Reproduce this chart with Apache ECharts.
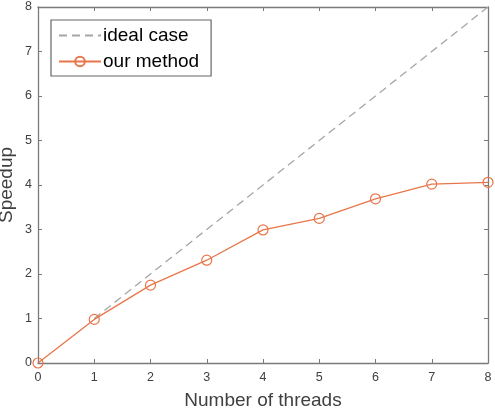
<!DOCTYPE html>
<html>
<head>
<meta charset="utf-8">
<script src="https://cdn.jsdelivr.net/npm/echarts@6/dist/echarts.min.js"></script>
<style>
  html, body { margin: 0; padding: 0; background: #fff; }
  #main { width: 495px; height: 411px; }
</style>
</head>
<body>
<div id="main"></div>
<script>
var threads = [0, 1, 2, 3, 4, 5, 6, 7, 8];
var ourMethod = [0, 0.98, 1.75, 2.31, 2.99, 3.25, 3.69, 4.02, 4.06];
var idealThreads = [1, 2, 3, 4, 5, 6, 7, 8];
var idealCase = [1, 2, 3, 4, 5, 6, 7, 8];

var pairs = function (xs, ys) {
    var out = [];
    for (var i = 0; i < xs.length; i++) out.push([xs[i], ys[i]]);
    return out;
};

var axisColor = '#7a7a7a';
var textColor = '#404040';
var font = 'Liberation Sans';

var chart = echarts.init(document.getElementById('main'));

var baseAxis = function (extra) {
    var a = {
        type: 'value',
        min: 0,
        max: 8,
        interval: 1,
        axisLine: { show: true, onZero: false, lineStyle: { color: axisColor, width: 1.3 } },
        axisTick: { show: true, inside: true, length: 4, lineStyle: { color: axisColor } },
        axisLabel: { show: true, color: textColor, fontSize: 12.5, fontFamily: font },
        splitLine: { show: false }
    };
    for (var k in extra) a[k] = extra[k];
    return a;
};

var option = {
    animation: false,
    grid: { left: 38, right: 7, top: 7, bottom: 48, show: false, containLabel: false, outerBoundsMode: 'none' },
    legend: {
        left: 51,
        top: 20,
        orient: 'vertical',
        backgroundColor: '#fff',
        borderColor: '#666',
        borderWidth: 1.2,
        borderRadius: 0,
        padding: [6, 12, 5, 7],
        itemGap: 7,
        itemWidth: 42,
        itemHeight: 12,
        textStyle: { fontSize: 19, fontFamily: font, color: '#000', padding: [0, 0, 0, -3] },
        data: [
            { name: 'ideal case', itemStyle: { opacity: 0 } },
            { name: 'our method' }
        ]
    },
    xAxis: [
        baseAxis({
            position: 'bottom',
            name: 'Number of threads',
            nameLocation: 'middle',
            nameGap: 28,
            nameMoveOverlap: false,
            nameTextStyle: { fontSize: 19, fontFamily: font, color: textColor },
            axisLabel: { color: textColor, fontSize: 12.5, fontFamily: font, margin: 8 }
        }),
        baseAxis({ position: 'top', axisLabel: { show: false } })
    ],
    yAxis: [
        baseAxis({
            position: 'left',
            name: 'Speedup',
            nameLocation: 'middle',
            nameGap: 22,
            nameMoveOverlap: false,
            nameTextStyle: { fontSize: 19, fontFamily: font, color: textColor },
            axisLabel: { color: textColor, fontSize: 12.5, fontFamily: font, margin: 6 }
        }),
        baseAxis({ position: 'right', axisLabel: { show: false } })
    ],
    series: [
        {
            name: 'ideal case',
            type: 'line',
            data: pairs(idealThreads, idealCase),
            showSymbol: false,
            symbol: 'none',
            lineStyle: { color: '#a6a6a6', width: 1.3, type: [8, 5] },
            itemStyle: { color: '#a6a6a6' }
        },
        {
            name: 'our method',
            type: 'line',
            data: pairs(threads, ourMethod),
            symbol: 'circle',
            symbolSize: 10,
            lineStyle: { color: '#e8764a', width: 1.3 },
            itemStyle: { color: 'rgba(255,255,255,0)', borderColor: '#e8764a', borderWidth: 1.2 }
        }
    ]
};

chart.setOption(option);
</script>
</body>
</html>
